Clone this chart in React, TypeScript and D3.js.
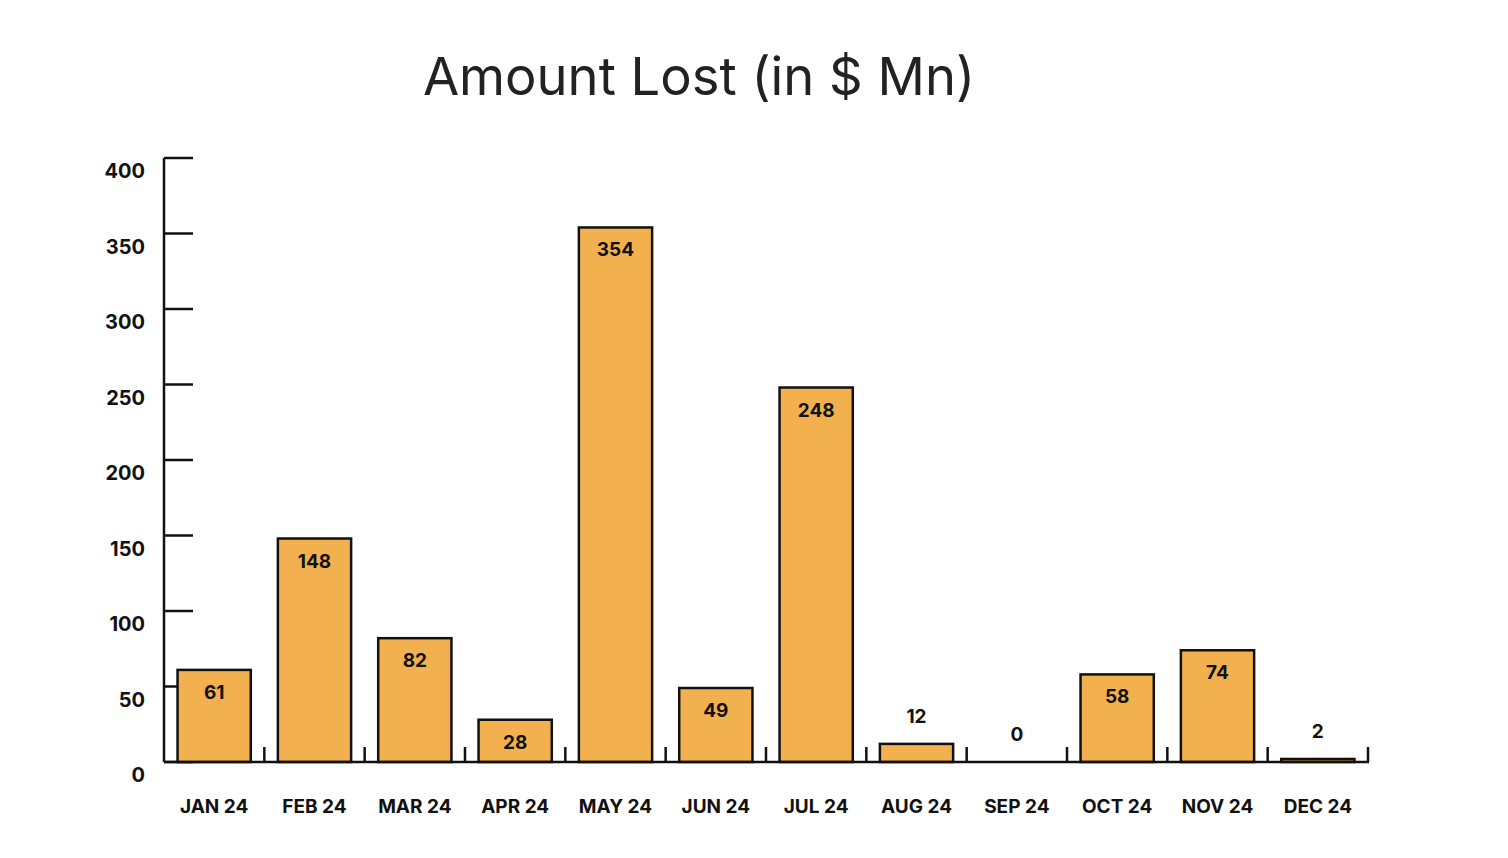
import React from "react";
import * as d3 from "d3";

const months = ["JAN 24", "FEB 24", "MAR 24", "APR 24", "MAY 24", "JUN 24", "JUL 24", "AUG 24", "SEP 24", "OCT 24", "NOV 24", "DEC 24"];
const amounts = [61, 148, 82, 28, 354, 49, 248, 12, 0, 58, 74, 2];
const yTicks = [0, 50, 100, 150, 200, 250, 300, 350, 400];
const title = "Amount Lost (in $ Mn)";

const W = 1508;
const H = 858;
const FONT = "Inter, 'Open Sans', sans-serif";

export default function App() {
  const x = d3.scaleBand<string>().domain(months).range([164, 1368]).paddingInner(0.27).paddingOuter(0.135);
  const y = d3.scaleLinear().domain([0, 400]).range([762, 158]);
  const step = x.step();
  const x0 = 164;

  return (
    <svg width={W} height={H} style={{ position: "absolute", left: 0, top: 0, background: "#fff" }}>
      <text x={699} y={95} textAnchor="middle" fontFamily={FONT} fontSize={52.5} fontWeight={400} fill="#222">
        {title}
      </text>

      {/* y axis */}
      <line x1={164} x2={164} y1={y(400)} y2={y(0)} stroke="#111" strokeWidth={2.5} />
      {yTicks.map((t) => (
        <g key={t}>
          <line x1={164} x2={193} y1={y(t)} y2={y(t)} stroke="#111" strokeWidth={2.5} />
          <text x={145} y={y(t) + 20} textAnchor="end" fontFamily={FONT} fontSize={20} fontWeight={700} fill="#111">
            {t}
          </text>
        </g>
      ))}

      {/* bars */}
      {months.map((m, i) => {
        const v = amounts[i];
        const bx = x(m)!;
        const top = y(v);
        return (
          <g key={m}>
            <rect x={bx} y={top} width={x.bandwidth()} height={y(0) - top} fill="#F2B04E" stroke="#111" strokeWidth={2.5} />
            <text
              x={bx + x.bandwidth() / 2}
              y={y(0) - top > 40 ? top + 29 : top - 21}
              textAnchor="middle"
              fontFamily={FONT}
              fontSize={19}
              fontWeight={700}
              fill="#111"
            >
              {v}
            </text>
            <text x={bx + x.bandwidth() / 2} y={813} textAnchor="middle" fontFamily={FONT} fontSize={19} fontWeight={700} fill="#111">
              {m}
            </text>
          </g>
        );
      })}

      {/* x axis */}
      <line x1={164} x2={1369} y1={y(0)} y2={y(0)} stroke="#111" strokeWidth={2.5} />
      {months.map((m, i) => (
        <line key={m} x1={x0 + step * (i + 1)} x2={x0 + step * (i + 1)} y1={y(0)} y2={y(0) - 15} stroke="#111" strokeWidth={2.5} />
      ))}
    </svg>
  );
}
